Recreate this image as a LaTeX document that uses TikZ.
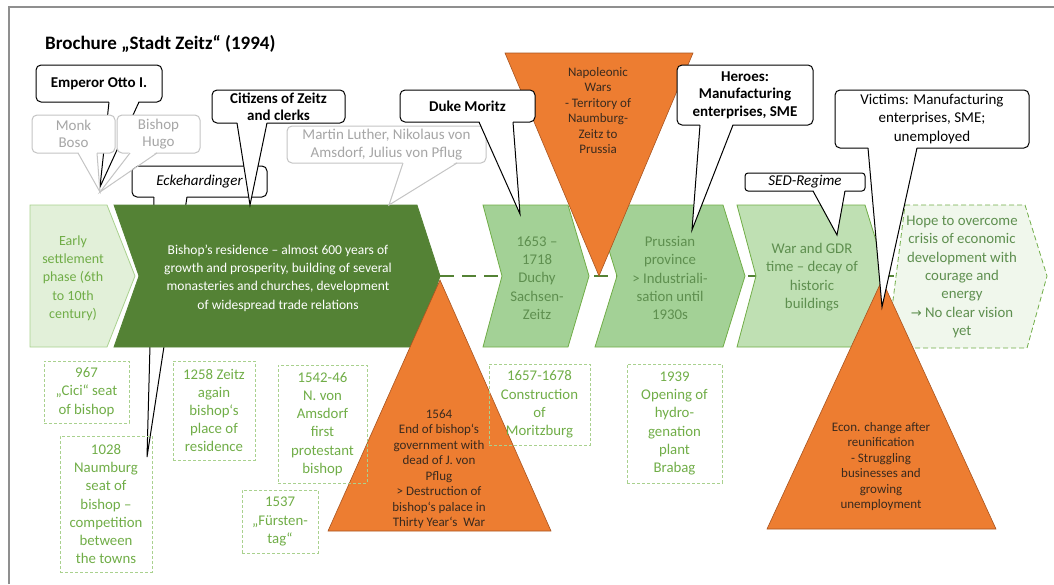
\documentclass[tikz,border=0pt]{standalone}
\usepackage{fontspec}
\setmainfont{Carlito}
\newfontfamily\djv{DejaVu Sans}
\usetikzlibrary{calc}
\definecolor{dkgreen}{HTML}{548235}
\definecolor{accgreen}{HTML}{70AD47}
\definecolor{midgreen}{HTML}{A3D196}
\definecolor{ltgreen}{HTML}{BFE0B3}
\definecolor{palegreen}{HTML}{E2F0D9}
\definecolor{hopegreen}{HTML}{F0F7EC}
\definecolor{txtgreen}{HTML}{5E8F4F}
\definecolor{boxgreen}{HTML}{A9D18E}
\definecolor{orng}{HTML}{ED7D31}
\definecolor{orngdk}{HTML}{A85420}
\definecolor{orngtxt}{HTML}{3A2A1E}
\definecolor{grayln}{HTML}{C4C4C4}
\definecolor{graytxt}{HTML}{A6A6A6}
\definecolor{framegray}{HTML}{8F8F8F}
\newcommand\fs[2]{\fontsize{#1}{#2}\selectfont}
% callout pointer: [colour] x1, x2, y of base, tip coordinate name
\newcommand\callptr[5][black]{%
  \fill[white] (#2,#4-1.5) -- (#3,#4-1.5) -- (#5) -- cycle;
  \draw[#1, line width=1pt, line join=miter] (#2,#4) -- (#5) -- (#3,#4);
}
\tikzset{
  callout/.style={draw=black, fill=white, line width=1pt, rounded corners=5pt, align=center, inner sep=0pt, text=black, font=\fs{15}{17.5}},
  graycall/.style={callout, draw=grayln, text=graytxt},
  chevtext/.style={align=center, font=\fs{14.8}{18.3}, inner sep=0pt},
  datebox/.style={draw=boxgreen, dash pattern=on 3pt off 2pt, line width=0.9pt, text=accgreen, align=center, inner sep=0pt, font=\fs{14.8}{18.2}},
  tri/.style={fill=orng, draw=orngdk, line width=0.6pt},
  tritext/.style={align=center, text=orngtxt, font=\fs{13}{15.5}, inner sep=0pt},
  chev/.style={draw=accgreen, line width=0.8pt},
}
\begin{document}
\begin{tikzpicture}[x={(1pt,0pt)}, y={(0pt,-1pt)}]
\useasboundingbox (0,0) rectangle (1054,584);
% frame
\draw[framegray, line width=2pt] (9,584) -- (9,7) -- (1054,7);
% title
\node[anchor=base west, font=\fs{19}{22}\bfseries, inner sep=0pt] (title) at (45,49) {Brochure „Stadt Zeitz“ (1994)};

% timeline
\coordinate (tlstart) at (440,276);
\coordinate (tlend) at (900,276);
\draw[dkgreen, line width=2.6pt, dash pattern=on 14pt off 8pt] (tlstart) -- (tlend);

% Eckehardinger callout (pointer runs behind the chevron)
\node[callout, minimum width=135, minimum height=31, font=\fs{15}{17.5}\itshape] (eck) at (199.5,181.5) {Eckehardinger};
\coordinate (ecktip) at (147,457);
\callptr{154}{187}{197}{ecktip}

% chevrons
\path[chev, fill=palegreen, draw=boxgreen] (30,205) -- (107,205) -- (135,276) -- (107,347) -- (30,347) -- cycle;
\node[chevtext, text=accgreen, font=\fs{14}{18.3}] (early) at (73,278) {Early\\settlement\\phase (6th\\to 10th\\century)};
\path[fill=dkgreen, draw=dkgreen, line width=0.8pt] (114,205) -- (417,205) -- (440,276) -- (417,347) -- (114,347) -- (139,276) -- cycle;
\node[chevtext, text=white, font=\fs{13.5}{18.3}] (bishop) at (278,278) {Bishop’s residence – almost 600 years of\\growth and prosperity, building of several\\monasteries and churches, development\\of widespread trade relations};
\path[chev, fill=midgreen] (483,205) -- (568,205) -- (589,276) -- (568,347) -- (483,347) -- (502,276) -- cycle;
\node[chevtext, text=txtgreen] (duchy) at (537,278) {1653 –\\1718\\Duchy\\Sachsen-\\Zeitz};
\path[chev, fill=midgreen] (595,205) -- (723,205) -- (745,276) -- (723,347) -- (595,347) -- (617,276) -- cycle;
\node[chevtext, text=txtgreen] (prussia) at (670,278) {Prussian\\province\\> Industriali-\\sation until\\1930s};
\path[chev, fill=ltgreen] (737,205) -- (865,205) -- (887,276) -- (865,347) -- (737,347) -- (756,276) -- cycle;
\node[chevtext, text=txtgreen] (war) at (812,277) {War and GDR\\time – decay of\\historic\\buildings};
\path[draw=accgreen, line width=0.8pt, dash pattern=on 5pt off 3pt, fill=hopegreen] (905,205) -- (1025,205) -- (1047,276) -- (1027,348) -- (887,348) -- cycle;
\node[chevtext, text=txtgreen] (hope) at (962,277) {Hope to overcome\\crisis of economic\\development with\\courage and\\energy\\{\djv\fs{13}{18.3}→} No clear vision\\yet};

% orange triangles
\path[tri] (505,53) -- (693,53) -- (599,276) -- cycle;
\node[tritext] (napoleon) at (598,110.5) {Napoleonic\\Wars\\- Territory of\\Naumburg-\\Zeitz to\\Prussia};
\path[tri] (440,280) -- (551,531) -- (328,531) -- cycle;
\node[tritext] (end1564) at (439,469) {1564\\End of bishop‘s\\government with\\dead of J. von\\Pflug\\> Destruction of\\bishop‘s palace in\\Thirty Year‘s~~War};
\path[tri] (882,280) -- (996,529) -- (767,529) -- cycle;
\node[tritext] (econ) at (881,466.5) {Econ. change after\\reunification\\- Struggling\\businesses and\\growing\\unemployment};

% date boxes
\node[datebox, minimum width=85, minimum height=62] (b967) at (86.5,392) {967\\„Cici“ seat\\of bishop};
\node[datebox, minimum width=92, minimum height=136] (b1028) at (106,504) {1028\\Naumburg\\seat of\\bishop –\\competition\\between\\the towns};
\node[datebox, minimum width=82, minimum height=99] (b1258) at (214,410.5) {1258 Zeitz\\again\\bishop‘s\\place of\\residence};
\node[datebox, minimum width=89, minimum height=118] (b1542) at (322.5,424) {1542-46\\N. von\\Amsdorf\\first\\protestant\\bishop};
\node[datebox, minimum width=76, minimum height=63] (b1537) at (280,521.5) {1537\\„Fürsten-\\tag“};
\node[datebox, minimum width=101, minimum height=81] (b1657) at (539.5,404.5) {1657-1678\\Construction\\of\\Moritzburg};
\node[datebox, minimum width=95, minimum height=119] (b1939) at (674.5,423.5) {1939\\Opening of\\hydro-\\genation\\plant\\Brabag};

% Emperor Otto callout
\node[callout, minimum width=126, minimum height=37, font=\fs{15}{17.5}\bfseries] (otto) at (99,83.5) {Emperor Otto I.};
\coordinate (ottotip) at (100,187);
\callptr{109}{139}{102}{ottotip}
% gray callouts
\coordinate (graytip) at (100,192);
\node[graycall, minimum width=83, minimum height=38] (boso) at (73.5,134) {Monk\\Boso};
\callptr[grayln]{78}{97}{153}{graytip}
\node[graycall, minimum width=83, minimum height=38] (hugo) at (158.5,134) {Bishop\\Hugo};
\callptr[grayln]{130}{157}{153}{graytip}
\node[graycall, minimum width=199, minimum height=37] (luther) at (386.5,144.5) {Martin Luther, Nikolaus von\\Amsdorf, Julius von Pflug};
\coordinate (luthertip) at (389,205);
\callptr[grayln]{403}{457}{163}{luthertip}

% Citizens callout
\node[callout, minimum width=133, minimum height=33, font=\fs{15}{17.3}\bfseries] (citizens) at (278.5,106.5) {Citizens of Zeitz\\and clerks};
\coordinate (citizentip) at (250,205);
\callptr{237}{267}{123}{citizentip}

% Duke Moritz
\node[callout, minimum width=135, minimum height=32, font=\fs{15}{17.5}\bfseries] (duke) at (467.5,106) {Duke Moritz};
\coordinate (duketip) at (520,214);
\callptr{479}{513}{122}{duketip}

% Heroes
\node[callout, minimum width=136, minimum height=60, font=\fs{15}{17.5}\bfseries] (heroes) at (745,95) {Heroes:\\Manufacturing\\enterprises, SME};
\coordinate (herotip) at (692,230);
\callptr{700}{733}{125}{herotip}

% SED-Regime
\node[callout, minimum width=120, minimum height=18, rounded corners=3pt, font=\fs{15}{17.5}\itshape] (sed) at (805,182) {SED-Regime};
\coordinate (sedtip) at (837,235);
\callptr{813}{845}{191}{sedtip}

% Victims
\node[callout, minimum width=194, minimum height=58, font=\fs{15}{18.3}] (victims) at (932,119) {Victims: Manufacturing\\enterprises, SME;\\unemployed};
\coordinate (victimtip) at (882,307);
\callptr{868}{917}{148}{victimtip}
\end{tikzpicture}
\end{document}
